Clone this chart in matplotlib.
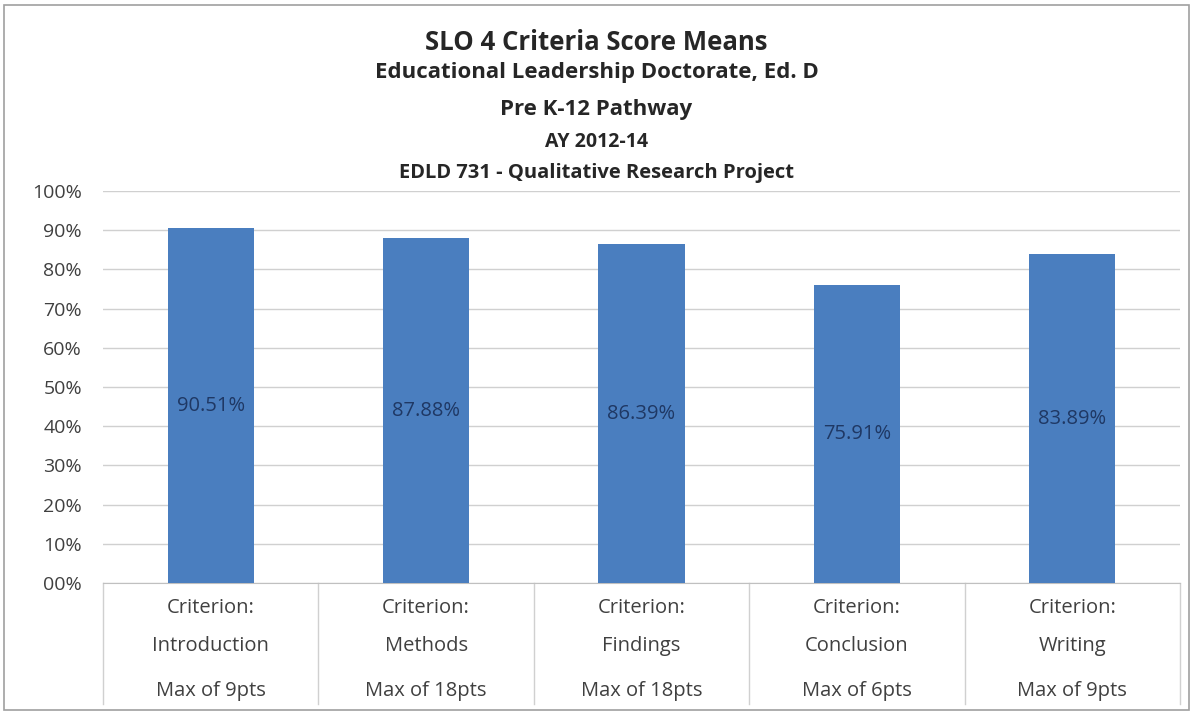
import matplotlib
matplotlib.use("Agg")
from matplotlib import pyplot as plt
from matplotlib.patches import Rectangle

criteria = ["Introduction", "Methods", "Findings", "Conclusion", "Writing"]
max_pts = ["Max of 9pts", "Max of 18pts", "Max of 18pts", "Max of 6pts", "Max of 9pts"]
means = [90.51, 87.88, 86.39, 75.91, 83.89]
yticks = [0, 10, 20, 30, 40, 50, 60, 70, 80, 90, 100]
ytick_labels = ["00%", "10%", "20%", "30%", "40%", "50%", "60%", "70%", "80%", "90%", "100%"]

plt.rcParams['font.family'] = ['Open Sans', 'DejaVu Sans']

fig = plt.figure(figsize=(11.93, 7.16), dpi=100)
ax = fig.add_axes([0.0863, 0.1858, 0.9028, 0.5475])

x = list(range(len(criteria)))
ax.bar(x, means, width=0.4, color="#4a7ebf", zorder=3)
for xi, v in zip(x, means):
    ax.text(xi, v / 2, "%.2f%%" % v, ha="center", va="center",
            fontsize=14.5, color="#1f3864", zorder=4)

ax.set_xlim(-0.5, len(criteria) - 0.5)
ax.set_ylim(0, 100)
ax.set_yticks(yticks)
ax.set_yticklabels(ytick_labels, fontsize=14, color="#404040")
ax.tick_params(axis="y", length=0, pad=15)
ax.set_xticks([])
ax.yaxis.grid(True, color="#d0d0d0", linewidth=1, zorder=0)
for s in ["top", "right", "left"]:
    ax.spines[s].set_visible(False)
ax.spines["bottom"].set_color("#c0c0c0")

# category labels and dividers below the axis
for i in range(len(criteria) + 1):
    ax.plot([i - 0.5, i - 0.5], [0, -31], color="#d0d0d0", lw=1, clip_on=False)
for xi, c, m in zip(x, criteria, max_pts):
    ax.text(xi, -6.5, "Criterion:", ha="center", va="center", fontsize=14.5, color="#404040")
    ax.text(xi, -16, c, ha="center", va="center", fontsize=14.5, color="#404040")
    ax.text(xi, -27.5, m, ha="center", va="center", fontsize=14.5, color="#404040")

# titles
fig.text(0.5, 0.940, "SLO 4 Criteria Score Means", ha="center", va="center",
         fontsize=18.5, fontweight="bold", color="#262626")
fig.text(0.5, 0.8994, "Educational Leadership Doctorate, Ed. D", ha="center", va="center",
         fontsize=16, fontweight="bold", color="#262626")
fig.text(0.5, 0.8464, "Pre K-12 Pathway", ha="center", va="center",
         fontsize=16, fontweight="bold", color="#262626")
fig.text(0.5, 0.8017, "AY 2012-14", ha="center", va="center",
         fontsize=14, fontweight="bold", color="#262626")
fig.text(0.5, 0.7584, "EDLD 731 - Qualitative Research Project", ha="center", va="center",
         fontsize=14.5, fontweight="bold", color="#262626")

# outer chart border
fig.patches.append(Rectangle((0.003, 0.008), 0.994, 0.985, transform=fig.transFigure,
                             fill=False, edgecolor="#a0a0a0", lw=1.2))

fig.savefig("out.png", dpi=100)
